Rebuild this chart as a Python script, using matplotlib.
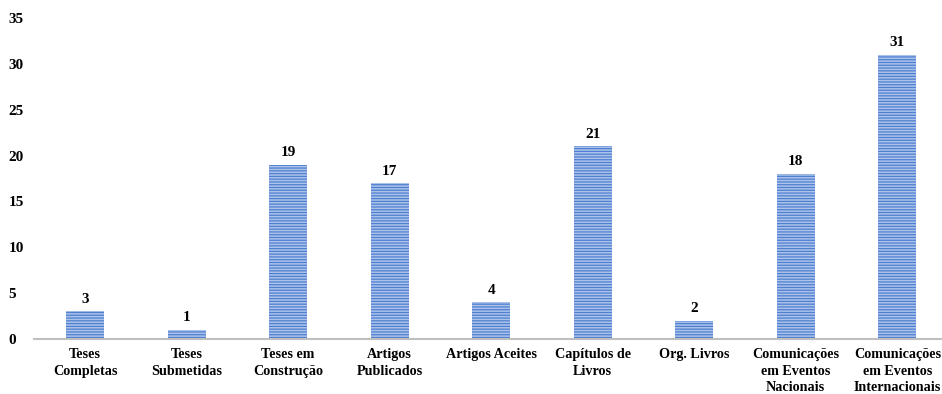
import matplotlib.pyplot as plt

categorias = ["Teses\nCompletas", "Teses\nSubmetidas", "Teses em\nConstrução",
              "Artigos\nPublicados", "Artigos Aceites", "Capítulos de\nLivros",
              "Org. Livros", "Comunicações\nem Eventos\nNacionais",
              "Comunicações\nem Eventos\nInternacionais"]
valores = [3, 1, 19, 17, 4, 21, 2, 18, 31]

plt.rcParams["font.family"] = ["Liberation Serif", "DejaVu Serif"]
plt.rcParams["font.weight"] = "bold"
plt.rcParams["hatch.linewidth"] = 0.9

fig = plt.figure(figsize=(9.42, 3.94), dpi=100)
ax = fig.add_axes([34.25 / 942, 55 / 394, 1 - 34.25 / 942, 321 / 394])

x = range(len(categorias))
barras = ax.bar(x, valores, width=0.375, color="#abc3ea", edgecolor="#4f7fd0",
                hatch="------", linewidth=0)

for xi, v in zip(x, valores):
    ax.text(xi, v + 0.6, str(v), ha="center", va="bottom",
            fontsize=11, fontweight="bold")

ax.set_xlim(-0.5, 8.44)
ax.set_ylim(0, 35)
ax.set_yticks(range(0, 36, 5))
ax.set_xticks(list(x))
ax.set_xticklabels(categorias, fontsize=10.2, fontweight="bold", linespacing=1.35)
ax.tick_params(axis="both", length=0)
ax.tick_params(axis="y", pad=18.5, labelsize=11)
ax.tick_params(axis="x", pad=6.5)
for lbl in ax.get_yticklabels():
    lbl.set_fontweight("bold")
    lbl.set_horizontalalignment("left")

for s in ["top", "right", "left"]:
    ax.spines[s].set_visible(False)
ax.spines["bottom"].set_color("#bfbfbf")
ax.spines["bottom"].set_linewidth(1.5)

fig.savefig("out.png", dpi=100)
